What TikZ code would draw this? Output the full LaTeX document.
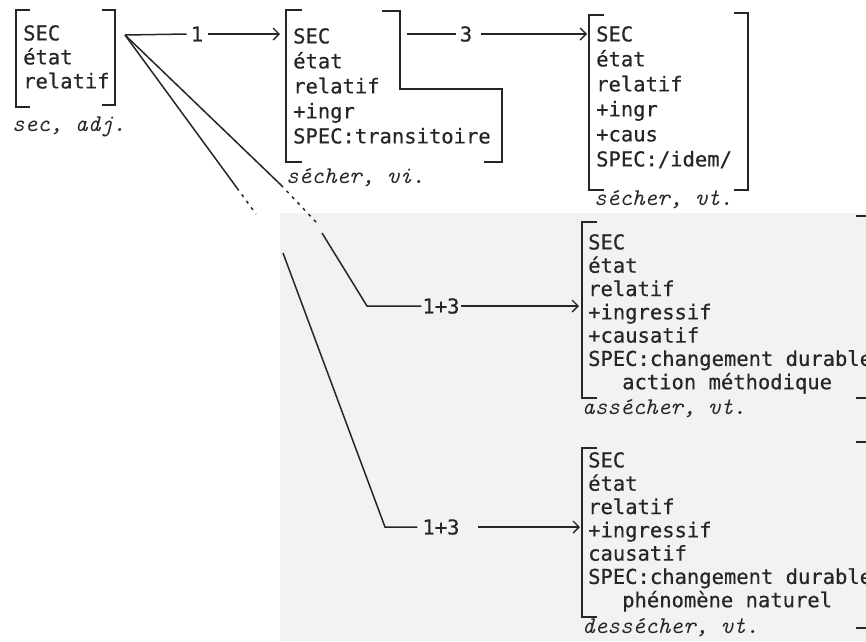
\documentclass[tikz,border=0pt]{standalone}
\usepackage{fontspec}
\newfontfamily\boxfont[FakeBold=0.5]{DejaVu Sans Mono}
\usetikzlibrary{arrows.meta}
\begin{document}
\begin{tikzpicture}[x=1pt,y=-1pt,
  ink/.style={draw=black!85, line width=1.5pt},
  brk/.style={draw=black!85, line width=1.3pt},
  arr/.style={ink, -{Straight Barb[length=6pt,width=12pt,line width=1.4pt]}},
  dots/.style={ink, dash pattern=on 3pt off 5pt},
  feat/.style={anchor=north west, inner sep=0pt, align=left, text=black!85,
    font=\boxfont\fontsize{20.5}{25}\selectfont},
  featone/.style={feat, font=\boxfont\fontsize{20.5}{24}\selectfont},
  featlow/.style={feat, font=\boxfont\fontsize{20.5}{23.3}\selectfont},
  lex/.style={anchor=base west, inner sep=0pt, text=black!85,
    font=\ttfamily\itshape\fontsize{24}{24}\selectfont},
  num/.style={inner sep=1pt, text=black!85, font=\boxfont\fontsize{20.5}{24}\selectfont},
]
\clip (0,0) rectangle (866,641);
\fill[white] (0,0) rectangle (866,641);
\fill[black!5] (280,213) rectangle (866,641);

% ---- box 1
\node[featone] (f1) at (23,25) {SEC\\état\\relatif};
\node[lex] (x1) at (12,131) {sec, adj.};
\draw[brk] (30,10) -- (16,10) -- (16,107) -- (30,107);
\draw[brk] (102,10) -- (115,10) -- (115,105) -- (102,105);
\coordinate (o1) at (125,35);

% ---- box 2
\node[feat] (f2) at (293,28) {SEC\\état\\relatif\\+ingr\\SPEC:transitoire};
\node[lex] (x2) at (286,183) {sécher, vi.};
\draw[brk] (302,10) -- (286,10) -- (286,162) -- (302,162);
\draw[brk] (382,11) -- (400,11) -- (400,89) -- (502,89) -- (502,162) -- (484,162);
\coordinate (t2) at (280,34);
\coordinate (o2) at (407,34);

% ---- box 3
\node[feat] (f3) at (596,26) {SEC\\état\\relatif\\+ingr\\+caus\\SPEC:/idem/};
\node[lex] (x3) at (594,205) {sécher, vt.};
\draw[brk] (604,15) -- (589,15) -- (589,190) -- (604,190);
\draw[brk] (734,13) -- (748,13) -- (748,190) -- (734,190);
\coordinate (t3) at (587,34);

% ---- box 4
\node[featlow] (f4) at (588,234) {SEC\\état\\relatif\\+ingressif\\+causatif\\SPEC:changement durable\\\hspace*{34pt}action méthodique};
\node[lex] (x4) at (582,414) {assécher, vt.};
\draw[brk] (597,222) -- (582,222) -- (582,398) -- (597,398);
\draw[brk] (856,216) -- (872,216) -- (872,398) -- (856,398);
\coordinate (t4) at (579,306);

% ---- box 5
\node[featlow] (f5) at (588,452) {SEC\\état\\relatif\\+ingressif\\causatif\\SPEC:changement durable\\\hspace*{34pt}phénomène naturel};
\node[lex] (x5) at (582,633) {dessécher, vt.};
\draw[brk] (597,448) -- (582,448) -- (582,617) -- (597,617);
\draw[brk] (856,442) -- (872,442) -- (872,628) -- (856,628);
\coordinate (t5) at (580,527);

% ---- arrow 1
\node[num] (l1) at (197,34) {1};
\draw[ink] (o1) -- ([xshift=-3pt]l1.west);
\draw[arr] ([xshift=4pt]l1.east) -- (t2);

% ---- arrow 3
\node[num] (l3) at (466,34) {3};
\draw[ink] (o2) -- ([xshift=-3pt]l3.west);
\draw[arr] ([xshift=8pt]l3.east) -- (t3);

% ---- line A : 1+3 to assecher
\coordinate (a1) at (281,185);
\coordinate (a2) at (316,222);
\coordinate (a3) at (322,233);
\coordinate (a4) at (367,306);
\node[num] (l4) at (441,306) {1+3};
\draw[ink] (o1) -- (a1);
\draw[dots] (a1) -- (a2);
\draw[ink] (a3) -- (a4) -- (l4.west);
\draw[arr] (l4.east) -- (t4);

% ---- line B : 1+3 to dessecher
\coordinate (b1) at (237,188);
\coordinate (b2) at (256,214);
\coordinate (b3) at (283,253);
\coordinate (b4) at (385,527);
\node[num] (l5) at (441,527) {1+3};
\draw[ink] (o1) -- (b1);
\draw[dots] (b1) -- (b2);
\draw[ink] (b3) -- (b4) -- ([xshift=-4pt]l5.west);
\draw[arr] ([xshift=17pt]l5.east) -- (t5);
\end{tikzpicture}
\end{document}
